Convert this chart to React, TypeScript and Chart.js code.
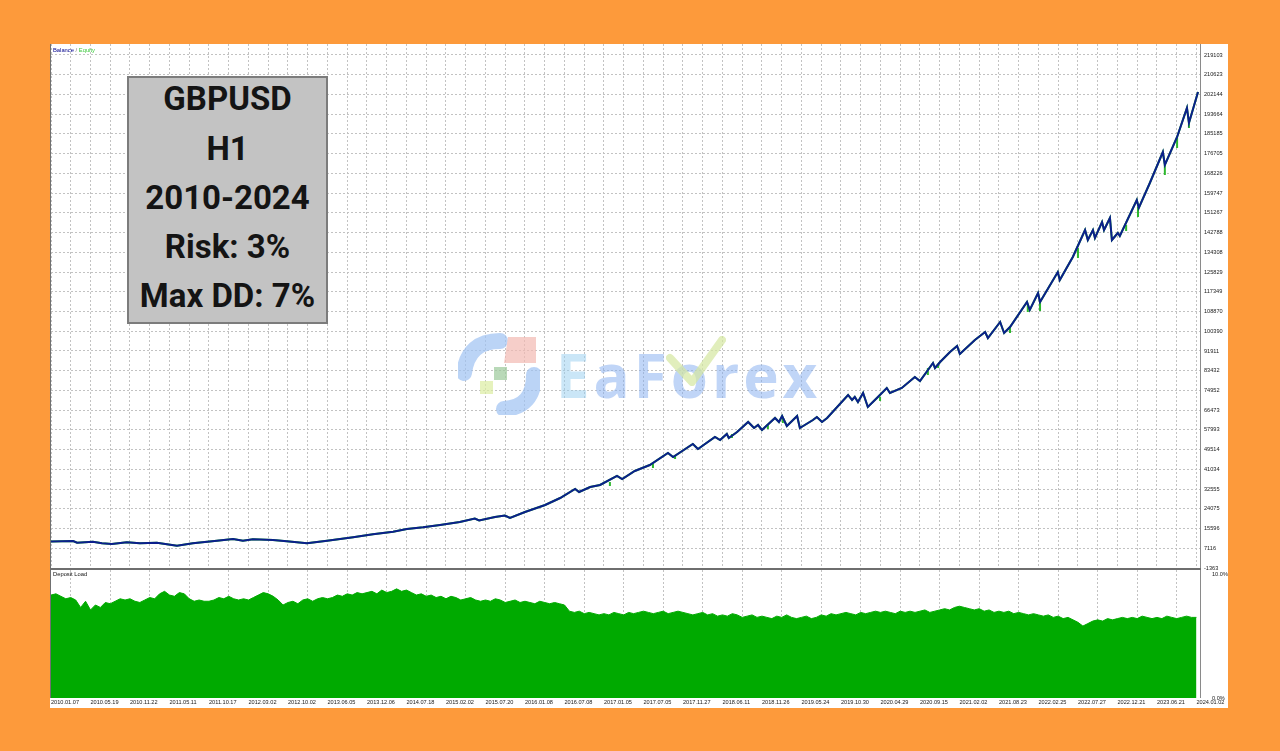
import React, { useEffect, useRef } from 'react';
import { Chart, registerables } from 'chart.js';

Chart.register(...registerables);

// ---------------- data ----------------
const xDateLabels = [
  '2010.01.07', '2010.05.19', '2010.11.22', '2011.05.11', '2011.10.17', '2012.03.02',
  '2012.10.02', '2013.06.05', '2013.12.06', '2014.07.18', '2015.02.02', '2015.07.20',
  '2016.01.08', '2016.07.08', '2017.01.05', '2017.07.05', '2017.11.27', '2018.06.11',
  '2018.11.26', '2019.05.24', '2019.10.30', '2020.04.29', '2020.09.15', '2021.02.02',
  '2021.08.23', '2022.02.25', '2022.07.27', '2022.12.21', '2023.06.21', '2024.01.02',
];

const balanceTicks = [
  -1363, 7116, 15596, 24075, 32555, 41034, 49514, 57993, 66473, 74952, 83432, 91911,
  100390, 108870, 117349, 125829, 134308, 142788, 151267, 159747, 168226, 176705,
  185185, 193664, 202144, 210623, 219103,
];

// position along the trade axis (1 unit = one date label step)
const balancePos = [
  0, 0.56, 0.66, 1.06, 1.29, 1.54, 1.92, 2.25, 2.68, 3.19, 3.59, 4.2, 4.61, 4.86, 5.11,
  5.62, 5.97, 6.48, 6.99, 7.65, 8.15, 8.66, 9.01, 9.42, 9.85, 10.35, 10.73, 10.84, 11.24,
  11.49, 11.62, 12.0, 12.51, 12.89, 13.27, 13.37, 13.65, 13.9, 14.33, 14.46, 14.78, 15.16,
  15.62, 15.75, 16.25, 16.38, 16.81, 16.94, 17.11, 17.16, 17.37, 17.65, 17.8, 17.9, 18.0,
  18.33, 18.43, 18.51, 18.63, 18.89, 18.96, 19.29, 19.39, 19.52, 19.65, 20.18, 20.28,
  20.35, 20.43, 20.56, 20.68, 20.91, 21.16, 21.24, 21.54, 21.87, 22.0, 22.33, 22.38,
  22.51, 22.76, 22.94, 23.01, 23.39, 23.65, 23.72, 24.03, 24.13, 24.28, 24.71, 24.78,
  24.99, 25.04, 25.49, 25.54, 25.87, 26.18, 26.25, 26.38, 26.43, 26.61, 26.66, 26.81,
  26.86, 27.01, 27.06, 27.49, 27.54, 27.82, 28.15, 28.2, 28.51, 28.76, 28.81, 29.04,
];
const balanceValue = [
  10000, 10240, 9510, 9940, 9250, 8950, 9680, 9250, 9510, 8220, 9250, 10370, 11100, 10370,
  10970, 10670, 10110, 9250, 10370, 11830, 13120, 14240, 15400, 16130, 17120, 18410, 19910,
  19050, 20560, 21200, 20130, 22700, 25710, 28720, 32590, 31300, 33450, 34310, 38180, 36890,
  40330, 42900, 48060, 46340, 51930, 49780, 54940, 53650, 56230, 54510, 57090, 61380, 58810,
  60090, 57950, 63100, 61380, 63960, 59660, 63960, 58810, 62240, 63530, 61380, 63100, 72990,
  70840, 72130, 69980, 73850, 67830, 71700, 76000, 73850, 76000, 80720, 79000, 86740, 84590,
  87170, 91470, 94050, 90610, 96630, 100060, 97480, 104360, 99630, 102210, 112960, 109520,
  116820, 112960, 125850, 122410, 132300, 143900, 139600, 143900, 140460, 147340, 143900,
  149060, 139600, 142610, 141320, 156790, 153350, 164100, 177420, 171830, 183870, 196330,
  189890, 203210,
];

// equity dips below balance
const equityDipPos = [14.15, 15.24, 15.8, 17.24, 18.15, 18.53, 20.99, 22.2, 22.46, 24.28, 24.73, 25.04, 26.0, 27.22, 27.52, 28.2, 28.51, 28.81];
const equityDipTop = [35600, 43330, 47200, 56230, 60520, 63530, 72130, 84590, 86310, 102210, 112100, 112960, 136160, 146050, 153780, 171830, 183870, 189890];
const equityDipLow = [33880, 41610, 45480, 54510, 58380, 60950, 70410, 81580, 84590, 99630, 108660, 109090, 131870, 143470, 149490, 167540, 179140, 187740];

// deposit load in %, one value every 1/8 of a label step
const depositStep = 0.125;
const depositLoadPct = [
  8.3, 8.4, 8.2, 8.0, 8.1, 7.9, 7.3, 7.8,
  7.1, 7.5, 7.3, 7.7, 7.6, 7.8, 8.0, 7.9,
  8.0, 7.8, 7.7, 7.9, 8.1, 8.0, 8.4, 8.6,
  8.3, 8.2, 8.5, 8.4, 8.0, 7.8, 7.9, 7.8,
  7.8, 7.9, 8.1, 8.0, 8.2, 8.0, 7.9, 8.0,
  7.9, 8.1, 8.3, 8.5, 8.4, 8.2, 7.9, 7.5,
  7.7, 7.8, 7.6, 7.9, 8.0, 7.8, 8.0, 8.1,
  8.0, 8.1, 8.3, 8.2, 8.4, 8.3, 8.5, 8.4,
  8.5, 8.6, 8.4, 8.7, 8.5, 8.6, 8.8, 8.6,
  8.7, 8.5, 8.3, 8.4, 8.2, 8.3, 8.1, 8.2,
  8.0, 8.2, 8.1, 7.9, 8.0, 8.1, 7.9, 7.8,
  7.9, 7.8, 8.0, 7.9, 7.7, 7.8, 7.9, 7.7,
  7.8, 7.7, 7.6, 7.8, 7.7, 7.6, 7.7, 7.6,
  7.5, 7.0, 6.9, 7.0, 6.8, 6.9, 6.8, 6.7,
  6.8, 6.7, 6.9, 6.8, 6.7, 6.9, 6.8, 6.9,
  7.0, 6.9, 6.8, 6.9, 7.0, 6.8, 6.9, 7.0,
  6.9, 6.8, 6.7, 6.8, 6.9, 6.7, 6.8, 6.6,
  6.7, 6.6, 6.8, 6.7, 6.5, 6.6, 6.7, 6.5,
  6.6, 6.5, 6.4, 6.6, 6.5, 6.7, 6.5, 6.4,
  6.5, 6.6, 6.4, 6.5, 6.7, 6.6, 6.8, 6.7,
  6.8, 6.9, 6.8, 6.7, 6.9, 6.8, 6.9, 7.0,
  6.9, 7.0, 6.9, 6.8, 7.0, 6.9, 7.0, 6.9,
  7.0, 7.1, 6.9, 7.0, 7.1, 7.2, 7.1, 7.3,
  7.4, 7.3, 7.2, 7.1, 7.2, 7.0, 7.1, 6.9,
  7.0, 6.9, 7.0, 6.8, 6.9, 6.8, 6.7, 6.8,
  6.7, 6.6, 6.7, 6.5, 6.6, 6.4, 6.5, 6.3,
  6.1, 5.8, 6.0, 6.2, 6.3, 6.2, 6.4, 6.3,
  6.4, 6.5, 6.4, 6.5, 6.4, 6.6, 6.5, 6.4,
  6.5, 6.4, 6.6, 6.5, 6.4, 6.5, 6.6, 6.5,
  6.5,
];
const depositTicks = [0, 10];

// ---------------- styles ----------------
const ORANGE = '#FD9A3B';
const BALANCE_COLOR = '#0B1F8C';
const EQUITY_COLOR = '#2DB82D';
const DEPOSIT_COLOR = '#00AA00';
const GRID_COLOR = '#C2C2C2';
const AXIS_FONT = 'Liberation Sans, Arial, sans-serif';
const X_MAX = 29.09;
const BAL_MIN = -1363;
const BAL_MAX = 223830;
const DEP_MAX = 10.32;

const halfSteps: number[] = [];
for (let i = 0; i <= 58; i++) halfSteps.push(i * 0.5);

function framePlugin(withTop: boolean) {
  return {
    id: 'frame' + (withTop ? 'T' : 'M'),
    afterDraw(chart: any) {
      const { ctx, chartArea: a } = chart;
      ctx.save();
      ctx.fillStyle = '#707070';
      ctx.fillRect(Math.round(a.left) - 1, 0, 1, Math.round(a.bottom));
      ctx.fillStyle = '#8a8a8a';
      ctx.fillRect(Math.round(a.right), Math.round(a.top), 1, Math.round(a.bottom - a.top));
      if (withTop) {
        ctx.fillStyle = '#6e6e6e';
        ctx.fillRect(Math.round(a.left) - 1, Math.round(a.top) - 2, Math.round(a.right - a.left) + 2, 2);
      }
      ctx.restore();
    },
  };
}

export default function App() {
  const mainRef = useRef<HTMLCanvasElement>(null);
  const depRef = useRef<HTMLCanvasElement>(null);

  useEffect(() => {
    const balanceData = balancePos.map((x, i) => ({ x, y: balanceValue[i] }));
    const dipData: { x: number; y: number | null }[] = [];
    equityDipPos.forEach((x, i) => {
      dipData.push({ x, y: equityDipTop[i] });
      dipData.push({ x, y: equityDipLow[i] });
      dipData.push({ x, y: null });
    });
    const depData = depositLoadPct.map((y, i) => ({ x: i * depositStep, y }));

    const zeroPad = (s: any) => {
      s.paddingTop = 0;
      s.paddingBottom = 0;
      s.paddingLeft = 0;
      s.paddingRight = 0;
    };

    const main = new Chart(mainRef.current as HTMLCanvasElement, {
      type: 'line',
      data: {
        datasets: [
          { label: 'Equity', data: balanceData, borderColor: EQUITY_COLOR, borderWidth: 2, pointRadius: 0, tension: 0, order: 3 } as any,
          { label: 'EquityDips', data: dipData, borderColor: EQUITY_COLOR, borderWidth: 2, pointRadius: 0, spanGaps: false, order: 2 } as any,
          { label: 'Balance', data: balanceData, borderColor: BALANCE_COLOR, borderWidth: 2, pointRadius: 0, tension: 0, order: 1 } as any,
        ],
      },
      options: {
        animation: false,
        responsive: false,
        maintainAspectRatio: false,
        layout: { padding: { left: 1, top: 0, right: 0, bottom: 0 } },
        plugins: { legend: { display: false }, tooltip: { enabled: false } },
        scales: {
          x: {
            type: 'linear',
            min: 0,
            max: X_MAX,
            afterBuildTicks: (s: any) => { s.ticks = halfSteps.map((v) => ({ value: v })); },
            afterFit: (s: any) => { s.height = 7; zeroPad(s); },
            ticks: { display: false },
            grid: { color: GRID_COLOR, lineWidth: 1, drawTicks: false },
            border: { display: false, dash: [2, 2] },
          },
          y: {
            type: 'linear',
            position: 'right',
            min: BAL_MIN,
            max: BAL_MAX,
            afterBuildTicks: (s: any) => { s.ticks = balanceTicks.map((v) => ({ value: v })); },
            afterFit: (s: any) => { s.width = 28; zeroPad(s); },
            ticks: {
              font: { family: AXIS_FONT, size: 5.6 },
              color: '#1a1a1a',
              padding: 4,
              callback: (v: any) => String(v),
            },
            grid: { color: GRID_COLOR, lineWidth: 1, drawTicks: false },
            border: { display: false, dash: [2, 2] },
          },
        },
      } as any,
      plugins: [framePlugin(false)],
    });

    const dep = new Chart(depRef.current as HTMLCanvasElement, {
      type: 'line',
      data: {
        datasets: [
          {
            label: 'Deposit Load',
            data: depData,
            borderColor: DEPOSIT_COLOR,
            backgroundColor: DEPOSIT_COLOR,
            borderWidth: 1,
            pointRadius: 0,
            tension: 0,
            fill: 'origin',
          } as any,
        ],
      },
      options: {
        animation: false,
        responsive: false,
        maintainAspectRatio: false,
        layout: { padding: { left: 1, top: 2, right: 0, bottom: 0 } },
        plugins: { legend: { display: false }, tooltip: { enabled: false } },
        scales: {
          x: {
            type: 'linear',
            min: 0,
            max: X_MAX,
            afterBuildTicks: (s: any) => { s.ticks = halfSteps.map((v) => ({ value: v })); },
            afterFit: (s: any) => { s.height = 10; zeroPad(s); },
            ticks: {
              font: { family: AXIS_FONT, size: 5.6 },
              color: '#1a1a1a',
              padding: 1,
              align: 'start',
              autoSkip: false,
              maxRotation: 0,
              minRotation: 0,
              callback: (v: any) => (Number.isInteger(v) ? xDateLabels[v] || '' : ''),
            },
            grid: {
              color: (c: any) => (c.tick && c.tick.value % 1 !== 0 ? GRID_COLOR : 'rgba(0,0,0,0)'),
              lineWidth: 1,
              drawTicks: false,
            },
            border: { display: false, dash: [2, 2] },
          },
          y: {
            type: 'linear',
            position: 'right',
            min: 0,
            max: DEP_MAX,
            afterBuildTicks: (s: any) => { s.ticks = depositTicks.map((v) => ({ value: v })); },
            afterFit: (s: any) => { s.width = 28; zeroPad(s); },
            ticks: {
              font: { family: AXIS_FONT, size: 5.6 },
              color: '#1a1a1a',
              padding: 4,
              callback: (v: any) => Number(v).toFixed(1) + '%',
            },
            grid: { display: false },
            border: { display: false },
          },
        },
      } as any,
      plugins: [framePlugin(true)],
    });

    return () => {
      main.destroy();
      dep.destroy();
    };
  }, []);

  const boxLine = (text: string, center: number) => (
    <div
      style={{
        position: 'absolute',
        left: 0,
        width: '100%',
        top: center - 76 - 18,
        height: 33,
        lineHeight: '33px',
        fontSize: 33,
        fontFamily: 'Roboto, sans-serif',
        fontWeight: 700,
        color: '#141414',
        textAlign: 'center',
        whiteSpace: 'nowrap',
      }}
    >
      {text}
    </div>
  );

  const small: React.CSSProperties = {
    position: 'absolute',
    fontFamily: AXIS_FONT,
    fontSize: 5.8,
    lineHeight: '7px',
    whiteSpace: 'nowrap',
  };

  return (
    <div style={{ position: 'fixed', left: 0, top: 0, width: 1280, height: 751, background: ORANGE, overflow: 'hidden' }}>
      <div style={{ position: 'absolute', left: 50, top: 44, width: 1178, height: 664, background: '#ffffff' }} />
      <canvas ref={mainRef} width={1178} height={531} style={{ position: 'absolute', left: 50, top: 44, width: 1178, height: 531 }} />
      <canvas ref={depRef} width={1178} height={140} style={{ position: 'absolute', left: 50, top: 568, width: 1178, height: 140 }} />

      <div style={{ ...small, left: 53, top: 47 }}>
        <span style={{ color: '#00008B' }}>Balance</span>
        <span style={{ color: '#777' }}> / </span>
        <span style={{ color: '#3CC83C' }}>Equity</span>
      </div>
      <div style={{ ...small, left: 53, top: 571, color: '#111' }}>Deposit Load</div>

      {/* watermark */}
      <svg width={82} height={82} viewBox="0 0 82 82" style={{ position: 'absolute', left: 458, top: 333, opacity: 0.7 }}>
        <path d="M 42 8 Q 10 8 6 40" stroke="#9FC2F3" strokeWidth={16} fill="none" strokeLinecap="round" />
        <path d="M 50 4 L 78 4 L 78 30 L 46 30 Z" fill="#F3B9B3" />
        <path d="M 76 42 Q 76 74 46 76" stroke="#9FC2F3" strokeWidth={16} fill="none" strokeLinecap="round" />
        <rect x={36} y={34} width={13} height={13} fill="#9CC99A" />
        <rect x={22} y={48} width={13} height={13} fill="#DCEDA2" />
      </svg>
      <div
        style={{
          position: 'absolute',
          left: 556,
          top: 345,
          fontFamily: '"Open Sans", sans-serif',
          fontWeight: 700,
          fontSize: 60,
          lineHeight: '60px',
          letterSpacing: 4,
          color: 'rgba(130,172,240,0.5)',
          whiteSpace: 'nowrap',
        }}
      >
        <span style={{ color: 'rgba(150,205,240,0.5)' }}>E</span>aForex
      </div>
      <svg width={70} height={60} viewBox="0 0 70 60" style={{ position: 'absolute', left: 662, top: 332, opacity: 0.7 }}>
        <path d="M 8 26 L 30 50 L 60 8" stroke="#D5E7A0" strokeWidth={8} fill="none" strokeLinecap="round" strokeLinejoin="round" />
      </svg>

      {/* info box */}
      <div
        style={{
          position: 'absolute',
          left: 127,
          top: 76,
          width: 201,
          height: 248,
          boxSizing: 'border-box',
          background: '#C3C3C3',
          border: '2px solid #7c7c7c',
        }}
      >
        {boxLine('GBPUSD', 98)}
        {boxLine('H1', 148)}
        {boxLine('2010-2024', 197)}
        {boxLine('Risk: 3%', 246)}
        {boxLine('Max DD: 7%', 295)}
      </div>
    </div>
  );
}
